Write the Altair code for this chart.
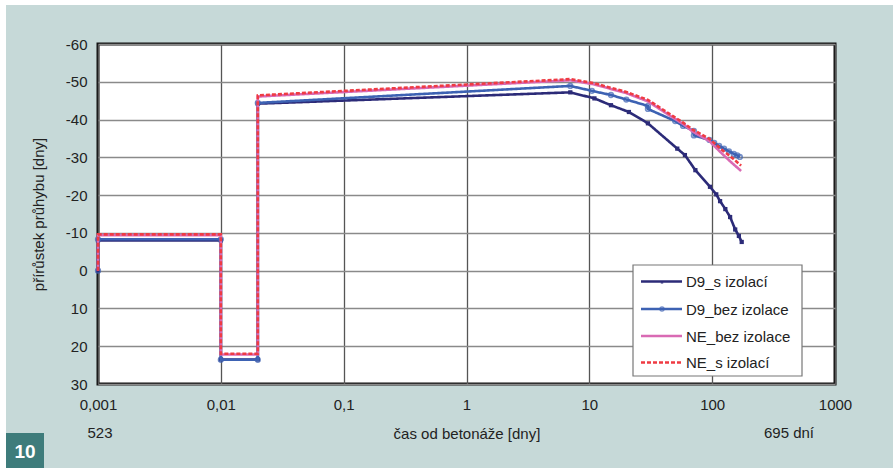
import altair as alt
import pandas as pd

# ---------------- data ----------------
series_names = ["D9_s izolací", "D9_bez izolace", "NE_bez izolace", "NE_s izolací"]
series_colors = ["#2c2b78", "#3d62b3", "#d96ab4", "#ef3b43"]
series_dash = [[1, 0], [1, 0], [1, 0], [4, 2]]

x_d9s = [0.001, 0.001, 0.01, 0.01, 0.02, 0.02, 7, 11, 15, 21, 30, 52, 60, 73, 96,
         108, 116, 128, 140, 154, 165, 174]
y_d9s = [0, -8, -8, 23.5, 23.5, -44.2, -47.2, -45.6, -43.8, -42.0, -39.0, -32.3,
         -30.6, -26.6, -22.2, -20.2, -18.4, -16.3, -14.2, -10.9, -9.2, -7.6]

x_d9b = [0.001, 0.001, 0.01, 0.01, 0.02, 0.02, 7, 10.5, 15, 20, 30, 30, 50, 58, 71,
         71, 95, 104, 114, 125, 137, 150, 160, 168]
y_d9b = [0, -8.3, -8.3, 23.6, 23.6, -44.4, -48.9, -47.6, -46.5, -45.3, -43.6, -42.8,
         -39.6, -38.3, -37.0, -35.8, -34.6, -33.8, -33.0, -32.3, -31.6, -30.9, -30.5, -30.1]

x_neb = [0.001, 0.001, 0.01, 0.01, 0.02, 0.02, 7, 11, 15, 20, 30, 48, 58, 69, 95,
         120, 145, 172]
y_neb = [0, -9.4, -9.4, 22.2, 22.2, -46.1, -50.4, -49.3, -48.1, -47.0, -44.8, -40.5,
         -38.8, -36.9, -34.3, -31.0, -28.5, -26.4]

x_nes = [0.001, 0.001, 0.01, 0.01, 0.02, 0.02, 7, 11, 15, 20, 30, 48, 58, 69, 95,
         120, 145, 172]
y_nes = [0, -9.6, -9.6, 22.0, 22.0, -46.4, -50.7, -49.6, -48.4, -47.3, -45.2, -40.9,
         -39.2, -37.4, -34.9, -32.0, -29.9, -27.8]

x_ticks = [0.001, 0.01, 0.1, 1, 10, 100, 1000]
y_ticks = [-60, -50, -40, -30, -20, -10, 0, 10, 20, 30]

x_title = "čas od betonáže [dny]"
y_title = "přírůstek průhybu [dny]"
left_note = "523"
right_note = "695 dní"
fig_number = "10"

# ---------------- table ----------------
rows = []
for name, xs, ys in [(series_names[0], x_d9s, y_d9s), (series_names[1], x_d9b, y_d9b),
                     (series_names[2], x_neb, y_neb), (series_names[3], x_nes, y_nes)]:
    for i, (a, b) in enumerate(zip(xs, ys)):
        rows.append({"series": name, "t": a, "v": b, "idx": i})
df = pd.DataFrame(rows)

FONT = "Liberation Sans"
TXT = "#222222"
W, H = 737, 340

xenc = alt.X("t:Q", scale=alt.Scale(type="log", domain=[0.001, 1000]),
             axis=alt.Axis(values=x_ticks, labelExpr="replace(format(datum.value, '~g'), '.', ',')",
                           grid=True, gridColor="#555555", gridWidth=1.3, ticks=False,
                           domain=False, labelPadding=13, labelFlush=False, labelOverlap=False,
                           title=x_title, titleY=49,
                           titleBaseline="middle", titleFontWeight="normal"))
yenc = alt.Y("v:Q", scale=alt.Scale(domain=[-60, 30], reverse=True),
             axis=alt.Axis(values=y_ticks,
                           labelExpr="datum.value < 0 ? '-' + abs(datum.value) : '' + datum.value",
                           grid=True, gridColor="#8a8a8a", gridWidth=1.6, ticks=False,
                           domain=False, labelPadding=11, labelOverlap=False, labelFlush=False,
                           title=y_title, titleX=-60,
                           titleBaseline="middle", titleFontWeight="normal"))

color = alt.Color("series:N", scale=alt.Scale(domain=series_names, range=series_colors),
                  legend=None)
dash = alt.StrokeDash("series:N", scale=alt.Scale(domain=series_names, range=series_dash),
                      legend=None)

base = alt.Chart(df).encode(x=xenc, y=yenc, color=color, strokeDash=dash,
                            order=alt.Order("idx:Q"))

pts = alt.Chart(df).encode(x=xenc, y=yenc)
pts_d9b = pts.transform_filter(alt.datum.series == series_names[1]).mark_point(
    shape="circle", size=22, filled=False, strokeWidth=1.6, color=series_colors[1])
pts_d9s = pts.transform_filter(alt.datum.series == series_names[0]).mark_point(
    shape="square", size=18, filled=True, color=series_colors[0], opacity=1)

def line_of(s):
    return base.transform_filter(alt.datum.series == s).mark_line(strokeWidth=2.6)

data_layers = [line_of(series_names[0]), pts_d9s,
               line_of(series_names[1]), pts_d9b,
               line_of(series_names[2]), line_of(series_names[3])]

one = alt.Chart(pd.DataFrame({"k": [0]}))
top_strip = one.mark_rect(color="white").encode(
    x=alt.value(-98), x2=alt.value(795), y=alt.value(-44), y2=alt.value(-39))
left_strip = one.mark_rect(color="white").encode(
    x=alt.value(-98), x2=alt.value(-92), y=alt.value(-44), y2=alt.value(424))
num_box = one.mark_rect(color="#3e7c7b").encode(
    x=alt.value(-92), x2=alt.value(-54), y=alt.value(389), y2=alt.value(424))
num_text = one.mark_text(font=FONT, fontSize=19, fontWeight="bold", color="white",
                         align="center", baseline="middle").encode(
    x=alt.value(-73), y=alt.value(408), text=alt.value(fig_number))
note_l = one.mark_text(font=FONT, fontSize=15, color=TXT, align="center",
                       baseline="middle").encode(
    x=alt.value(2), y=alt.value(389), text=alt.value(left_note))
note_r = one.mark_text(font=FONT, fontSize=15, color=TXT, align="center",
                       baseline="middle").encode(
    x=alt.value(691), y=alt.value(389), text=alt.value(right_note))

# ---------------- legend (drawn by hand) ----------------
LX0, LX1, LY0, LY1 = 535, 704, 221, 332
legend_layers = [one.mark_rect(fill="white", stroke="#777777", strokeWidth=1.2).encode(
    x=alt.value(LX0), x2=alt.value(LX1), y=alt.value(LY0), y2=alt.value(LY1))]
row_y = [237.5, 265, 292, 318.5]
for k, name in enumerate(series_names):
    yy = row_y[k]
    legend_layers.append(one.mark_rule(color=series_colors[k], strokeWidth=2.6,
                                       strokeDash=series_dash[k]).encode(
        x=alt.value(543), x2=alt.value(584), y=alt.value(yy)))
    legend_layers.append(one.mark_text(font=FONT, fontSize=15, color=TXT, align="left",
                                       baseline="middle").encode(
        x=alt.value(588), y=alt.value(yy + 0.5), text=alt.value(name)))
legend_layers.append(one.mark_point(shape="circle", size=16, filled=False, strokeWidth=1.4,
                                    color=series_colors[1]).encode(
    x=alt.value(564), y=alt.value(row_y[1])))
legend_layers.append(one.mark_point(shape="square", size=6, filled=True,
                                    color=series_colors[0]).encode(
    x=alt.value(564), y=alt.value(row_y[0] + 1)))

chart = alt.layer(top_strip, left_strip, num_box, num_text, note_l, note_r,
                  *data_layers, *legend_layers).properties(
    width=W, height=H, background="#c6d9d8",
    padding={"left": 98, "top": 44, "right": 58, "bottom": 84},
    autosize=alt.AutoSizeParams(type="none"),
).configure_view(fill="white", stroke="#111111", strokeWidth=3).configure_axis(
    labelFont=FONT, labelFontSize=15, labelColor=TXT,
    titleFont=FONT, titleFontSize=15, titleColor=TXT,
)

chart.save("out.html", embed_options={"renderer": "svg", "actions": False})
